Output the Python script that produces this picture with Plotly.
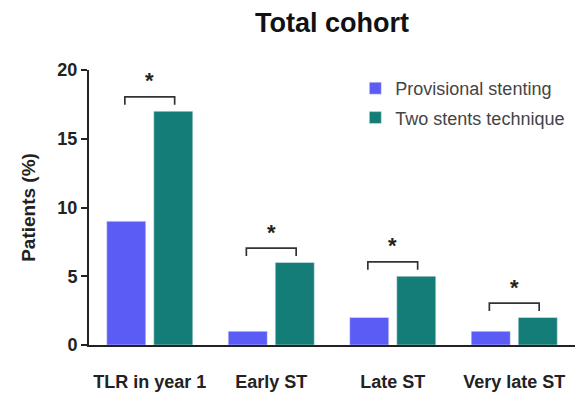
import plotly.graph_objects as go

# Event rates by endpoint for the two treatment strategies
categories = ["TLR in year 1", "Early ST", "Late ST", "Very late ST"]
provisional = [9, 1, 2, 1]
two_stents = [17, 6, 5, 2]
significant = ["*", "*", "*", "*"]
y_ticks = [0, 5, 10, 15, 20]

PURPLE = "#5b5bf6"
TEAL = "#147d77"
INK = "#222222"
FONT = "Liberation Sans, Arial, sans-serif"

fig = go.Figure()
fig.add_trace(go.Bar(x=categories, y=provisional, name="Provisional stenting",
                     marker_color=PURPLE, legendgroup="a"))
fig.add_trace(go.Bar(x=categories, y=two_stents, name="Two stents technique",
                     marker_color=TEAL, legendgroup="b"))

# Significance brackets over each pair of bars
half = 0.205
drop = 0.58
for i, (a, b, mark) in enumerate(zip(provisional, two_stents, significant)):
    top = max(a, b) + 1.05
    fig.add_shape(type="path", xref="x", yref="y",
                  path=f"M {i - half},{top - drop} L {i - half},{top} "
                       f"L {i + half},{top} L {i + half},{top - drop}",
                  line=dict(color="#333333", width=1.7))
    fig.add_annotation(x=i, y=top + 0.55, xref="x", yref="y",
                       text=f"<b>{mark}</b>", showarrow=False,
                       yanchor="bottom", yshift=-6,
                       font=dict(family=FONT, size=22, color=INK))

fig.update_layout(
    width=587, height=404,
    margin=dict(l=89, r=12, t=70, b=56),
    paper_bgcolor="white", plot_bgcolor="white",
    barmode="group", bargap=0.226, bargroupgap=0.17,
    font=dict(family=FONT, color=INK),
    title=dict(text="<b>Total cohort</b>", x=0.5656, xanchor="center",
               y=0.945, yanchor="middle",
               font=dict(family=FONT, size=27, color="#111111")),
    legend=dict(x=0.548, xanchor="left", y=1.0, yanchor="top",
                bgcolor="rgba(0,0,0,0)", tracegroupgap=3,
                font=dict(family=FONT, size=18, color="#444444")),
    showlegend=True,
)
fig.update_xaxes(
    type="category", showline=True, linecolor=INK, linewidth=2,
    ticks="", showgrid=False, zeroline=False,
    tickfont=dict(family=FONT, size=18, color=INK, weight="bold"),
    ticklabelstandoff=19,
)
fig.update_yaxes(
    range=[0, 20], tickvals=y_ticks, showline=True, linecolor=INK,
    linewidth=2, ticks="outside", ticklen=6, tickwidth=2, tickcolor=INK,
    showgrid=False, zeroline=False,
    tickfont=dict(family=FONT, size=18, color=INK, weight="bold"),
    title=dict(text="<b>Patients (%)</b>", standoff=17,
               font=dict(family=FONT, size=19, color=INK)),
)

fig.write_html("out.html")
